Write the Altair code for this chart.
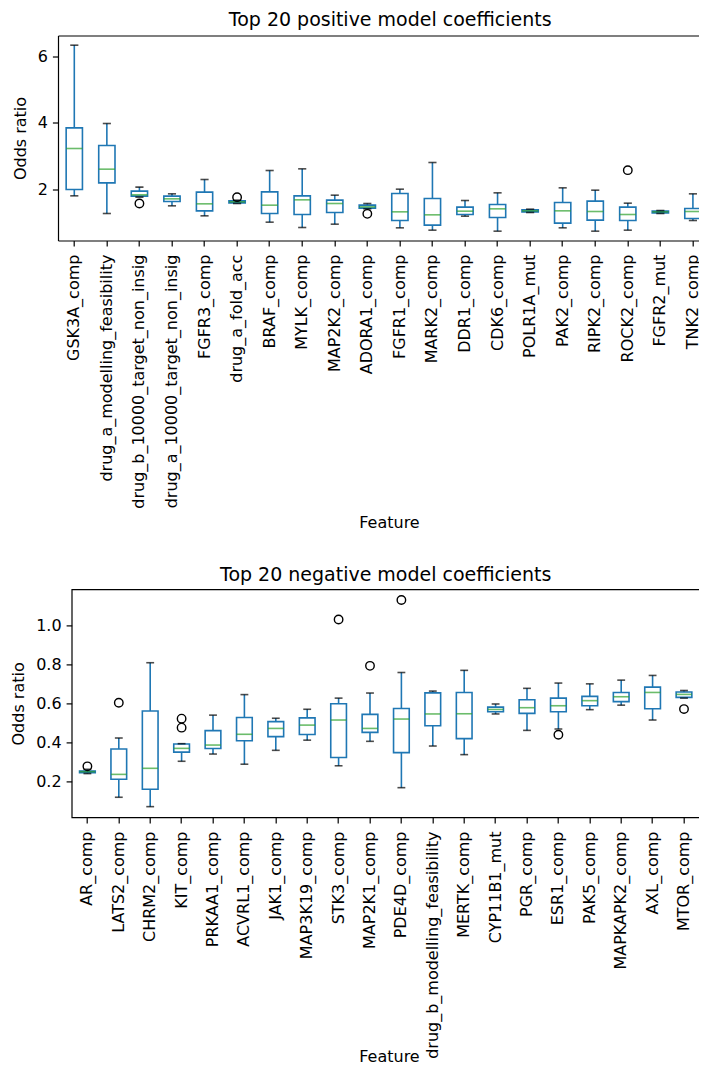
import altair as alt
import pandas as pd

# ---------------- data ----------------
pos_features = ["GSK3A_comp", "drug_a_modelling_feasibility", "drug_b_10000_target_non_insig",
                "drug_a_10000_target_non_insig", "FGFR3_comp", "drug_a_fold_acc", "BRAF_comp",
                "MYLK_comp", "MAP2K2_comp", "ADORA1_comp", "FGFR1_comp", "MARK2_comp", "DDR1_comp",
                "CDK6_comp", "POLR1A_mut", "PAK2_comp", "RIPK2_comp", "ROCK2_comp", "FGFR2_mut",
                "TNK2_comp"]
pos_low = [1.81, 1.28, 1.77, 1.51, 1.21, 1.58, 1.02, 0.86, 0.96, 1.42, 0.85, 0.78, 1.20, 0.75,
           1.31, 0.85, 0.75, 0.78, 1.28, 1.07]
pos_q1 = [2.00, 2.20, 1.80, 1.64, 1.36, 1.60, 1.28, 1.25, 1.31, 1.44, 1.07, 0.93, 1.25, 1.16,
          1.33, 0.99, 1.08, 1.07, 1.30, 1.13]
pos_med = [3.23, 2.61, 1.84, 1.72, 1.57, 1.63, 1.53, 1.69, 1.58, 1.48, 1.33, 1.24, 1.35, 1.42,
           1.36, 1.36, 1.34, 1.25, 1.33, 1.34]
pos_q3 = [3.85, 3.32, 1.95, 1.80, 1.92, 1.66, 1.93, 1.81, 1.68, 1.53, 1.88, 1.73, 1.47, 1.55,
          1.39, 1.61, 1.65, 1.47, 1.35, 1.43]
pos_high = [6.33, 3.98, 2.07, 1.87, 2.30, 1.68, 2.57, 2.62, 1.83, 1.58, 2.01, 2.81, 1.67, 1.90,
            1.41, 2.05, 1.98, 1.59, 1.37, 1.87]
pos_out_f = ["drug_b_10000_target_non_insig", "drug_a_fold_acc", "ADORA1_comp", "ROCK2_comp"]
pos_out_v = [1.58, 1.77, 1.27, 2.58]

neg_features = ["AR_comp", "LATS2_comp", "CHRM2_comp", "KIT_comp", "PRKAA1_comp", "ACVRL1_comp",
                "JAK1_comp", "MAP3K19_comp", "STK3_comp", "MAP2K1_comp", "PDE4D_comp",
                "drug_b_modelling_feasibility", "MERTK_comp", "CYP11B1_mut", "PGR_comp",
                "ESR1_comp", "PAK5_comp", "MAPKAPK2_comp", "AXL_comp", "MTOR_comp"]
neg_low = [0.241, 0.120, 0.072, 0.304, 0.341, 0.289, 0.360, 0.412, 0.281, 0.406, 0.169, 0.382,
           0.338, 0.546, 0.462, 0.469, 0.568, 0.591, 0.515, 0.627]
neg_q1 = [0.246, 0.212, 0.161, 0.351, 0.369, 0.409, 0.430, 0.441, 0.323, 0.452, 0.348, 0.486,
          0.420, 0.557, 0.549, 0.557, 0.588, 0.609, 0.573, 0.631]
neg_med = [0.251, 0.237, 0.268, 0.370, 0.387, 0.442, 0.472, 0.489, 0.515, 0.472, 0.520, 0.546,
           0.547, 0.569, 0.578, 0.588, 0.614, 0.634, 0.656, 0.646]
neg_q3 = [0.254, 0.367, 0.561, 0.392, 0.461, 0.528, 0.507, 0.526, 0.598, 0.544, 0.574, 0.654,
          0.656, 0.581, 0.619, 0.627, 0.636, 0.656, 0.683, 0.658]
neg_high = [0.263, 0.423, 0.808, 0.394, 0.540, 0.645, 0.524, 0.570, 0.627, 0.653, 0.758, 0.663,
            0.769, 0.597, 0.677, 0.704, 0.700, 0.719, 0.743, 0.666]
neg_out_f = ["AR_comp", "LATS2_comp", "KIT_comp", "KIT_comp", "STK3_comp", "MAP2K1_comp",
             "PDE4D_comp", "ESR1_comp", "MTOR_comp"]
neg_out_v = [0.278, 0.603, 0.522, 0.476, 1.029, 0.792, 1.129, 0.440, 0.571]

C0 = "#1f77b4"
C2 = "#2ca02c"
LW = 1.6
FRAME = 1.2


def panel(features, low, q1, med, q3, high, out_f, out_v, title, width, height,
          ydomain, yticks, yfmt, xtitle_y, title_offset, xrange=None, yoffset=0):
    df = pd.DataFrame({"Feature": features, "low": low, "q1": q1, "med": med,
                       "q3": q3, "high": high})
    odf = pd.DataFrame({"Feature": out_f, "value": out_v})
    framed = xrange is not None
    span = (xrange[1] - xrange[0]) if framed else width
    step = span / len(features)

    if framed:
        xscale = alt.Scale(domain=features, range=xrange, paddingInner=0.5, paddingOuter=0.25)
    else:
        xscale = alt.Scale(domain=features, paddingInner=0.5, paddingOuter=0.25)

    bottom_axis = alt.Axis(labelAngle=270, labelPadding=8, labelLimit=500,
                           titleY=xtitle_y, titleX=317.3, titleAlign="center",
                           titleBaseline="middle",
                           domain=framed, domainColor="black", domainWidth=FRAME)
    x_main = alt.X("Feature:N", title="Feature", scale=xscale, axis=bottom_axis)
    if framed:
        x_plain = alt.X("Feature:N", title="Feature", scale=xscale, axis=None)
        x_top = alt.X("Feature:N", scale=xscale,
                      axis=alt.Axis(orient="top", labels=False, ticks=False, title=None,
                                    domain=True, domainColor="black", domainWidth=FRAME))
    else:
        x_plain = x_main
        x_top = x_main

    yscale = alt.Scale(domain=ydomain, nice=False, zero=False)
    yaxis = alt.Axis(values=yticks, format=yfmt, labelPadding=5, titlePadding=9,
                     offset=yoffset, domain=framed, domainColor="black", domainWidth=FRAME)

    def Y(field):
        return alt.Y(field, scale=yscale, axis=yaxis, title="Odds ratio")

    base = alt.Chart(df)
    whisk = base.mark_rule(color=C0, strokeWidth=LW).encode(
        x=x_main, y=Y("low:Q"), y2="high:Q")
    box = base.mark_bar(fill="white", stroke=C0, strokeWidth=LW).encode(
        x=x_plain, y=Y("q1:Q"), y2="q3:Q")
    medm = base.mark_tick(color=C2, thickness=LW, size=step * 0.5, orient="horizontal").encode(
        x=x_plain, y=Y("med:Q"))
    capl = base.mark_tick(color="black", thickness=LW, size=step * 0.25,
                          orient="horizontal").encode(x=x_plain, y=Y("low:Q"))
    caph = base.mark_tick(color="black", thickness=LW, size=step * 0.25,
                          orient="horizontal").encode(x=x_top, y=Y("high:Q"))
    fl = alt.Chart(odf).mark_point(shape="circle", filled=False, color="black", size=72,
                                   strokeWidth=1.4, opacity=1).encode(x=x_plain, y=Y("value:Q"))
    layer = alt.layer(whisk, box, medm, capl, caph, fl).properties(
        width=width, height=height,
        title=alt.TitleParams(title, fontSize=19, fontWeight="normal", offset=title_offset))
    if framed:
        layer = layer.resolve_axis(x="independent").properties(
            view=alt.ViewBackground(stroke="transparent"))
    return layer


# top panel: its plot area starts 14px left of the lower panel's and runs past the page edge
top = panel(pos_features, pos_low, pos_q1, pos_med, pos_q3, pos_high, pos_out_f, pos_out_v,
            "Top 20 positive model coefficients", 637, 205, [0.47, 6.62], [2, 4, 6], "d",
            282, 6, xrange=[-13.68, 637.5], yoffset=13.7)
bottom = panel(neg_features, neg_low, neg_q1, neg_med, neg_q3, neg_high, neg_out_f, neg_out_v,
               "Top 20 negative model coefficients", 628, 228, [0.017, 1.183],
               [0.2, 0.4, 0.6, 0.8, 1.0], ".1f", 239, 4)

chart = alt.vconcat(top, bottom, spacing=33.9).properties(
    padding={"left": 1.7, "top": 1.5, "right": -24.8, "bottom": 0}
).configure_view(
    stroke="black", strokeWidth=FRAME
).configure_axis(
    domain=False, grid=False,
    labelFont="DejaVu Sans", labelFontSize=16, labelColor="black",
    titleFont="DejaVu Sans", titleFontSize=16, titleColor="black", titleFontWeight="normal",
    tickColor="black", tickSize=5.6, tickWidth=1.2
).configure_title(
    font="DejaVu Sans", fontSize=19, fontWeight="normal", color="black"
)

chart.save("out.html", embed_options={"renderer": "svg", "actions": False})
